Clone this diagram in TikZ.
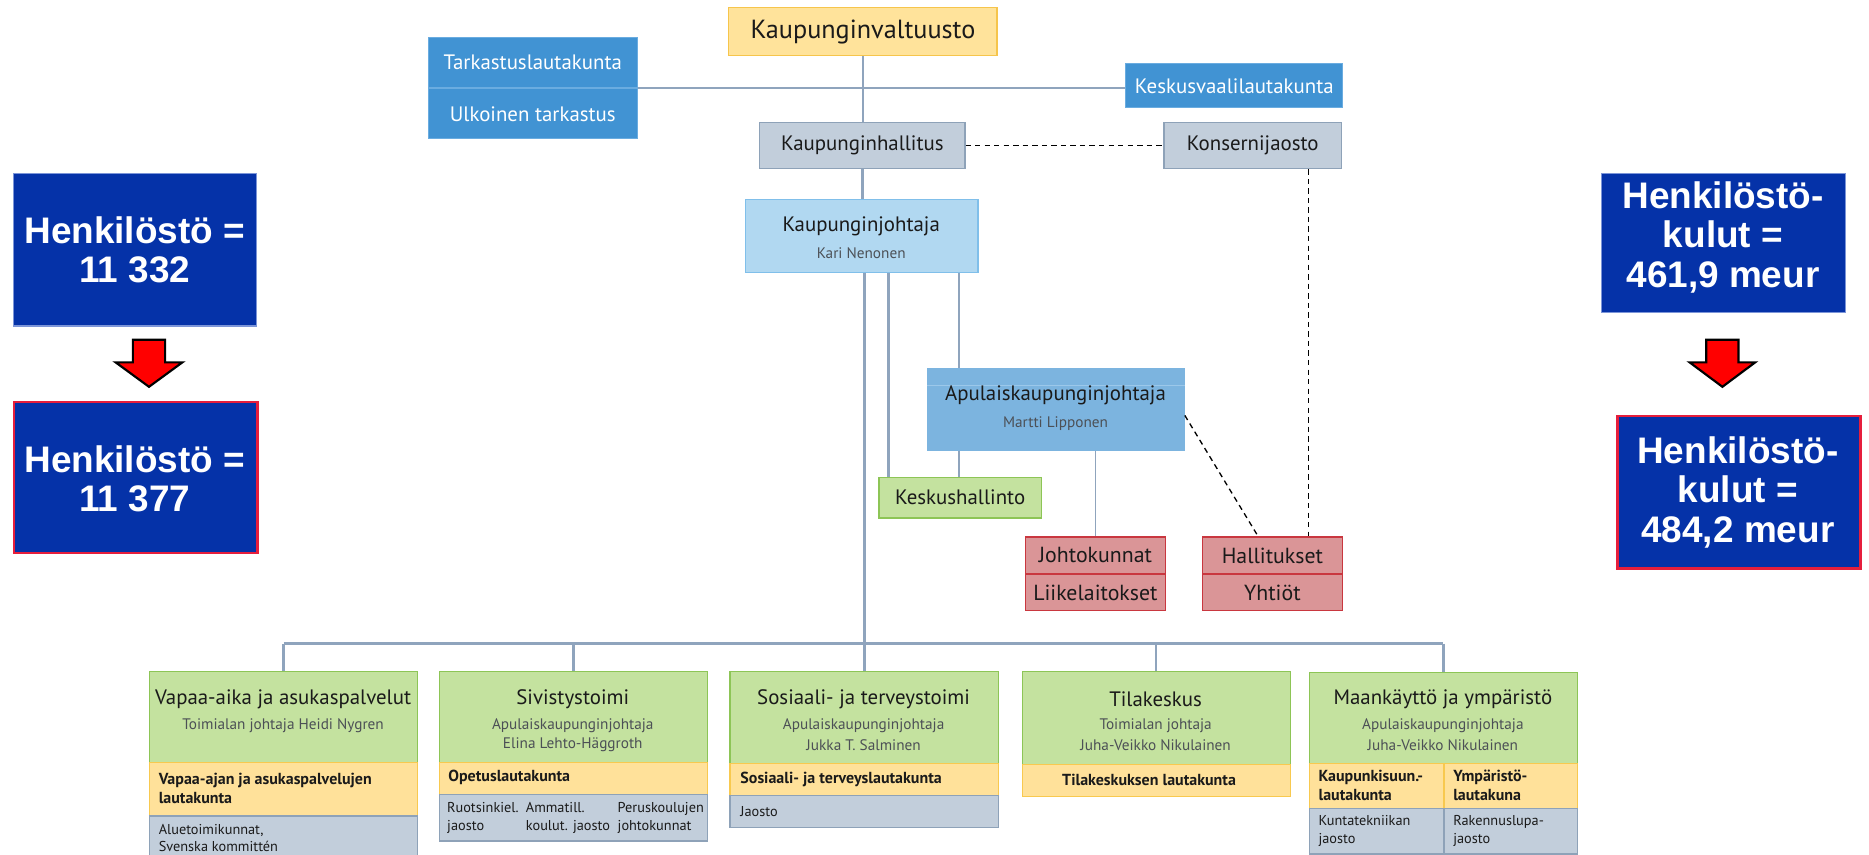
\documentclass[tikz,border=0pt]{standalone}
\usepackage{fontspec}
\setmainfont{PT Sans}
\newfontfamily\arialfont{Liberation Sans}
\definecolor{kvfill}{HTML}{FFE39B}
\definecolor{kvdraw}{HTML}{F6C54C}
\definecolor{bluef}{HTML}{4193D3}
\definecolor{blued}{HTML}{6AACE0}
\definecolor{grayf}{HTML}{C2CEDB}
\definecolor{grayd}{HTML}{8EA2B8}
\definecolor{ltbluef}{HTML}{B1D8F1}
\definecolor{ltblued}{HTML}{80BFEA}
\definecolor{akjf}{HTML}{7CB4DF}
\definecolor{akjd}{HTML}{9CC8EA}
\definecolor{greenf}{HTML}{C4E29F}
\definecolor{greend}{HTML}{8DC556}
\definecolor{redf}{HTML}{DA9597}
\definecolor{redd}{HTML}{C9373F}
\definecolor{orf}{HTML}{FFE19A}
\definecolor{ord}{HTML}{F8C94F}
\definecolor{linecol}{HTML}{8FA4BD}
\definecolor{navy}{HTML}{0532A8}
\definecolor{navyd}{HTML}{7C95D8}
\definecolor{hired}{HTML}{E61E3C}
\definecolor{txt}{HTML}{1A1A1A}
\definecolor{subtxt}{HTML}{4C5056}
\tikzset{
  bx/.style={draw, line width=1pt, inner sep=0pt, anchor=north west, text=txt},
  bigf/.style={font=\fontsize{17.5}{20}\selectfont},
  ttl/.style={text=txt, inner sep=0pt, font=\fontsize{17.5}{20}\selectfont},
  subt/.style={text=subtxt, inner sep=0pt, font=\fontsize{12.8}{15}\selectfont},
  bt/.style={text=txt, inner sep=0pt, font=\bfseries\fontsize{13.4}{15.5}\selectfont, align=left, anchor=west},
  gt/.style={text=txt, inner sep=0pt, font=\fontsize{12}{15}\selectfont, align=left, anchor=west},
  ln/.style={draw=linecol, line width=2pt},
  lnthin/.style={draw=linecol, line width=1.3pt},
  dsh/.style={draw=black, line width=1.1pt, dash pattern=on 4.5pt off 3.5pt},
  bigbox/.style={fill=navy, inner sep=0pt, anchor=north west},
  bigtext/.style={text=white, inner sep=0pt, align=center, font=\arialfont\bfseries\fontsize{31}{33}\selectfont},
  arr/.style={fill=red, draw=black, line width=1.8pt, line join=miter}
}
\begin{document}
\begin{tikzpicture}[x=1pt,y=-1pt]
\useasboundingbox[fill=white] (0,0) rectangle (1568,717.3);

% ---- top part
\node[bx, fill=kvfill, draw=kvdraw, minimum width=225pt, minimum height=40pt, font=\fontsize{22}{24}\selectfont] (KV) at (611,6) {Kaupunginvaltuusto};
\node[bx, fill=bluef, draw=blued, text=white, minimum width=175pt, minimum height=42pt, bigf] (TL) at (359,31) {Tarkastuslautakunta};
\node[bx, fill=bluef, draw=blued, text=white, minimum width=175pt, minimum height=42pt, bigf] (UT) at (359,74) {Ulkoinen tarkastus};
\node[bx, fill=bluef, draw=blued, text=white, minimum width=182pt, minimum height=37pt, bigf] (KVL) at (944,53) {Keskusvaalilautakunta};
\node[bx, fill=grayf, draw=grayd, minimum width=172pt, minimum height=39pt, bigf] (KH) at (637,102) {Kaupunginhallitus};
\node[bx, fill=grayf, draw=grayd, minimum width=149pt, minimum height=39pt, bigf] (KJ) at (976,102) {Konsernijaosto};

\node[bx, fill=ltbluef, draw=ltblued, minimum width=195pt, minimum height=61pt] (KJoh) at (625,167) {};
\node[ttl] (KJoht) at (722.5,190) {Kaupunginjohtaja};
\node[subt] (KJohs) at (722.5,212) {Kari Nenonen};

\node[bx, fill=akjf, draw=akjf, minimum width=215pt, minimum height=68pt] (AKJ) at (778,309) {};
\draw[draw=akjd, line width=0.8pt] ([yshift=-14pt]AKJ.north west) -- ([yshift=-14pt]AKJ.north east);
\node[ttl] (AKJt) at (885.5,332) {Apulaiskaupunginjohtaja};
\node[subt] (AKJs) at (885.5,355) {Martti Lipponen};

\node[bx, fill=greenf, draw=greend, minimum width=136pt, minimum height=34pt, bigf] (KS) at (737,400) {Keskushallinto};
\node[bx, fill=redf, draw=redd, minimum width=117pt, minimum height=31pt, font=\fontsize{18.3}{20}\selectfont] (JK) at (860,450) {Johtokunnat};
\node[bx, fill=redf, draw=redd, minimum width=117pt, minimum height=31pt, font=\fontsize{18.3}{20}\selectfont] (LL) at (860,481) {Liikelaitokset};
\node[bx, fill=redf, draw=redd, minimum width=118pt, minimum height=31pt, font=\fontsize{18.3}{20}\selectfont] (HA) at (1008,450) {Hallitukset};
\node[bx, fill=redf, draw=redd, minimum width=118pt, minimum height=31pt, font=\fontsize{18.3}{20}\selectfont] (YH) at (1008,481) {Yhtiöt};

% ---- bottom boxes
% 1
\node[bx, fill=greenf, draw=greend, minimum width=225pt, minimum height=76pt] (S1) at (125,563) {};
\node[bx, fill=orf, draw=ord, minimum width=225pt, minimum height=45pt] (O1) at (125,639) {};
\node[bx, fill=grayf, draw=grayd, minimum width=225pt, minimum height=45pt] (Y1) at (125,684) {};
\node[ttl] (S1t) at (237.5,587) {Vapaa-aika ja asukaspalvelut};
\node[subt] (S1s) at (237.5,609) {Toimialan johtaja Heidi Nygren};
\node[bt] (O1t) at (133,661.5) {Vapaa-ajan ja asukaspalvelujen\\lautakunta};
\node[gt] (Y1t) at (133,703) {Aluetoimikunnat,\\Svenska kommittén};
% 2
\node[bx, fill=greenf, draw=greend, minimum width=225pt, minimum height=76pt] (S2) at (368,563) {};
\node[bx, fill=orf, draw=ord, minimum width=225pt, minimum height=27pt] (O2) at (368,639) {};
\node[bx, fill=grayf, draw=grayd, minimum width=225pt, minimum height=39pt] (Y2) at (368,666) {};
\node[ttl] (S2t) at (480.5,587) {Sivistystoimi};
\node[subt] (S2s) at (480.5,609) {Apulaiskaupunginjohtaja};
\node[subt] (S2u) at (480.5,625) {Elina Lehto-Häggroth};
\node[bt] (O2t) at (376,652.5) {Opetuslautakunta};
\node[gt] (Y2a) at (375,686) {Ruotsinkiel.\\jaosto};
\node[gt] (Y2b) at (441,686) {Ammatill.\\koulut. jaosto};
\node[gt] (Y2c) at (518,686) {Peruskoulujen\\johtokunnat};
% 3
\node[bx, fill=greenf, draw=greend, minimum width=225pt, minimum height=77pt] (S3) at (612,563) {};
\node[bx, fill=orf, draw=ord, minimum width=225pt, minimum height=27pt] (O3) at (612,640) {};
\node[bx, fill=grayf, draw=grayd, minimum width=225pt, minimum height=27pt] (Y3) at (612,667) {};
\node[ttl] (S3t) at (724.5,587) {Sosiaali- ja terveystoimi};
\node[subt] (S3s) at (724.5,609) {Apulaiskaupunginjohtaja};
\node[subt] (S3u) at (724.5,625) {Jukka T. Salminen};
\node[bt] (O3t) at (621,653.5) {Sosiaali- ja terveyslautakunta};
\node[gt] (Y3t) at (621,681) {Jaosto};
% 4
\node[bx, fill=greenf, draw=greend, minimum width=225pt, minimum height=78pt] (S4) at (857,563) {};
\node[bx, fill=orf, draw=ord, minimum width=225pt, minimum height=27pt] (O4) at (857,641) {};
\node[ttl] (S4t) at (969.5,587) {Tilakeskus};
\node[subt] (S4s) at (969.5,609) {Toimialan johtaja};
\node[subt] (S4u) at (969.5,625) {Juha-Veikko Nikulainen};
\node[bt, anchor=center] (O4t) at (964,654.5) {Tilakeskuksen lautakunta};
% 5
\node[bx, fill=greenf, draw=greend, minimum width=225pt, minimum height=76pt] (S5) at (1098,564) {};
\node[bx, fill=orf, draw=ord, minimum width=113pt, minimum height=38pt] (O5a) at (1098,640) {};
\node[bx, fill=orf, draw=ord, minimum width=112pt, minimum height=38pt] (O5b) at (1211,640) {};
\node[bx, fill=grayf, draw=grayd, minimum width=113pt, minimum height=38pt] (Y5a) at (1098,678) {};
\node[bx, fill=grayf, draw=grayd, minimum width=112pt, minimum height=38pt] (Y5b) at (1211,678) {};
\node[ttl] (S5t) at (1210.5,587) {Maankäyttö ja ympäristö};
\node[subt] (S5s) at (1210.5,609) {Apulaiskaupunginjohtaja};
\node[subt] (S5u) at (1210.5,625) {Juha-Veikko Nikulainen};
\node[bt] (O5at) at (1106,659) {Kaupunkisuun.-\\lautakunta};
\node[bt] (O5bt) at (1219,659) {Ympäristö-\\lautakuna};
\node[gt] (Y5at) at (1106,697) {Kuntatekniikan\\jaosto};
\node[gt] (Y5bt) at (1219,697) {Rakennuslupa-\\jaosto};

% ---- connectors
\draw[lnthin] (KV.south) -- (KV.south |- KH.north);
\draw[lnthin] (TL.south east) -- (TL.south east -| KVL.west);
\draw[ln] (KH.south) -- (KH.south |- KJoh.north);
\draw[dsh] (KH.east) -- (KJ.west);
\draw[dsh] ([xshift=46.5pt]KJ.south) -- ([xshift=46.5pt]KJ.south |- HA.north);
\draw[ln, line width=2.4pt] ([xshift=2.5pt]KJoh.south) -- ([xshift=2.5pt]KJoh.south |- S3.north);
\draw[ln] ([xshift=22.5pt]KJoh.south) -- ([xshift=22.5pt]KJoh.south |- KS.north);
\draw[ln] ([xshift=81.5pt]KJoh.south) -- ([xshift=81.5pt]KJoh.south |- AKJ.north);
\draw[ln] ([xshift=81.5pt]KJoh.south |- AKJ.south) -- ([xshift=81.5pt]KJoh.south |- KS.north);
\draw[lnthin] (JK.north |- AKJ.south) -- (JK.north);
\draw[dsh] ([yshift=-5pt]AKJ.east) -- ([xshift=-12pt]HA.north);
\coordinate (bar) at (724.5,540);
\draw[ln, line width=2.6pt] (S1.north |- bar) -- (S5.north |- bar);
\foreach \n in {S1,S2,S4,S5} \draw[ln] (\n.north |- bar) -- (\n.north);

% ---- side boxes
\node[bigbox, draw=navyd, line width=1pt, minimum width=204pt, minimum height=128pt] (L1) at (11,145) {};
\node[bigtext] (L1t) at (113,209.5) {Henkilöstö =\\11 332};
\node[bigbox, draw=hired, line width=2pt, minimum width=204pt, minimum height=127pt] (L2) at (11,336) {};
\node[bigtext] (L2t) at (113,401.5) {Henkilöstö =\\11 377};
\node[bigbox, draw=navyd, line width=1pt, minimum width=205pt, minimum height=117pt] (R1) at (1343,145) {};
\node[bigtext] (R1t) at (1445.5,199) {Henkilöstö-\\kulut =\\461,9 meur};
\node[bigbox, draw=hired, line width=2pt, minimum width=204pt, minimum height=128pt] (R2) at (1356,348) {};
\node[bigtext] (R2t) at (1458,413) {Henkilöstö-\\kulut =\\484,2 meur};

\draw[arr] (111.5,285) -- (138.5,285) -- (138.5,304) -- (153,304) -- (125,324.5) -- (97,304) -- (111.5,304) -- cycle;
\draw[arr] (1431.5,285) -- (1458.5,285) -- (1458.5,304) -- (1472.5,304) -- (1445,324.5) -- (1417.5,304) -- (1431.5,304) -- cycle;
\end{tikzpicture}
\end{document}
